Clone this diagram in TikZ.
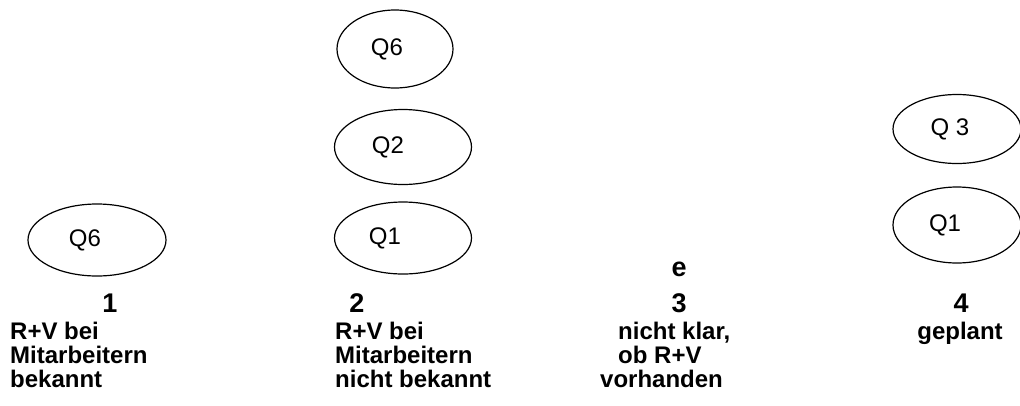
\documentclass[tikz,border=0pt]{standalone}
\usepackage{fontspec}
\setmainfont{Liberation Sans}
\usetikzlibrary{shapes.geometric}
\begin{document}
\begin{tikzpicture}[x=1pt,y=-1pt,
  qell/.style={draw, line width=1.2pt, ellipse, inner sep=0pt, font=\fontsize{24}{28}\selectfont},
  num/.style={font=\bfseries\fontsize{27}{30}\selectfont, anchor=base, inner sep=0pt},
  desc/.style={font=\bfseries\fontsize{24}{24}\selectfont, align=left, anchor=base west, inner sep=0pt}]
\useasboundingbox (0,0) rectangle (1020,405);
% column 1
\node[qell, minimum width=138pt, minimum height=72pt] (q6a) at (97,240) {Q6\hspace*{24pt}};
\node[num] (n1) at (110,312) {1};
\node[desc] (d1) at (10,387) {R+V bei\\Mitarbeitern\\bekannt};
% column 2
\node[qell, minimum width=116pt, minimum height=78pt] (q6b) at (395,49) {Q6\hspace*{16pt}};
\node[qell, minimum width=137pt, minimum height=75pt] (q2) at (403,147) {Q2\hspace*{30pt}};
\node[qell, minimum width=137pt, minimum height=72pt] (q1a) at (403,238) {Q1\hspace*{36pt}};
\node[num] (n2) at (357,312) {2};
\node[desc] (d2) at (335,387) {R+V bei\\Mitarbeitern\\nicht bekannt};
% column 3
\node[num] (e) at (679,276) {e};
\node[num] (n3) at (679,312) {3};
\node[desc] (d3) at (600,387) {\hspace*{18pt}nicht klar,\\\hspace*{18pt}ob R+V\\vorhanden};
% column 4
\node[qell, minimum width=128pt, minimum height=69pt] (q3) at (957,129) {Q 3\hspace*{14pt}};
\node[qell, minimum width=128pt, minimum height=76pt] (q1b) at (957,225) {Q1\hspace*{24pt}};
\node[num] (n4) at (961,312) {4};
\node[desc, anchor=base] (d4) at (960,339) {geplant};
\end{tikzpicture}
\end{document}
